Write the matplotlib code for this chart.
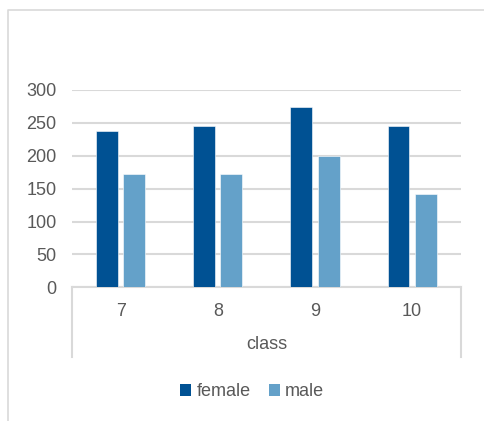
import matplotlib

matplotlib.use("Agg")

import matplotlib.pyplot as plt
from matplotlib.lines import Line2D
from matplotlib.patches import Patch
import numpy as np

classes = ["7", "8", "9", "10"]
female = [238, 245, 274, 245]
male = [173, 173, 199, 142]

DARK = "#005193"
LIGHT = "#64a1c9"
GRID = "#d9d9d9"
TEXT = "#595959"
FS = 13

plt.rcParams["font.family"] = ["Liberation Sans", "DejaVu Sans"]

W, H = 485, 421
fig = plt.figure(figsize=(W / 100, H / 100), dpi=100, facecolor="white")

# plot area in pixel terms
x0, x1 = 72, 460.7
y_top, y_zero = 90, 287.3
ax = fig.add_axes([x0 / W, 1 - y_zero / H, (x1 - x0) / W, (y_zero - y_top) / H])

x = np.arange(len(classes))
bw = 0.226
ax.bar(x - 0.14, female, width=bw, color=DARK, edgecolor="white", linewidth=0.4, zorder=3)
ax.bar(x + 0.14, male, width=bw, color=LIGHT, edgecolor="white", linewidth=0.4, zorder=3)

ax.set_xlim(-0.5, len(classes) - 0.5)
ax.set_ylim(0, 300)
ax.set_yticks(range(0, 301, 50))
ax.yaxis.grid(True, color=GRID, linewidth=1.5, zorder=0)
ax.set_axisbelow(True)
for s in ["left", "right", "top"]:
    ax.spines[s].set_visible(False)
ax.spines["bottom"].set_color(GRID)
ax.spines["bottom"].set_linewidth(1.5)

ax.set_xticks(x)
ax.set_xticklabels(classes)
ax.tick_params(axis="x", length=0, pad=11, labelsize=FS, labelcolor=TEXT)
ax.tick_params(axis="y", length=0, pad=11, labelsize=FS, labelcolor=TEXT)
ax.set_xlabel("class", fontsize=FS, color=TEXT)
ax.xaxis.label.set_verticalalignment("center")
ax.xaxis.set_label_coords(0.5, -0.292)

# category box sides below the plot area
for px in (x0, x1):
    fig.add_artist(Line2D([px / W, px / W], [1 - y_zero / H, 1 - 357 / H],
                          color=GRID, linewidth=1.5))

# chart frame
fig.add_artist(Line2D([8 / W, 8 / W, 1], [0, 1 - 10 / H, 1 - 10 / H],
                      color=GRID, linewidth=1.2))

handles = [Patch(facecolor=DARK, label="female"), Patch(facecolor=LIGHT, label="male")]
fig.legend(handles=handles, loc="center", bbox_to_anchor=(0.52, 1 - 391.7 / H), ncol=2,
           frameon=False, fontsize=FS, labelcolor=TEXT, handlelength=0.6,
           handleheight=0.6, handletextpad=0.3, columnspacing=1.0)

fig.savefig("out.png", dpi=100, facecolor="white")
